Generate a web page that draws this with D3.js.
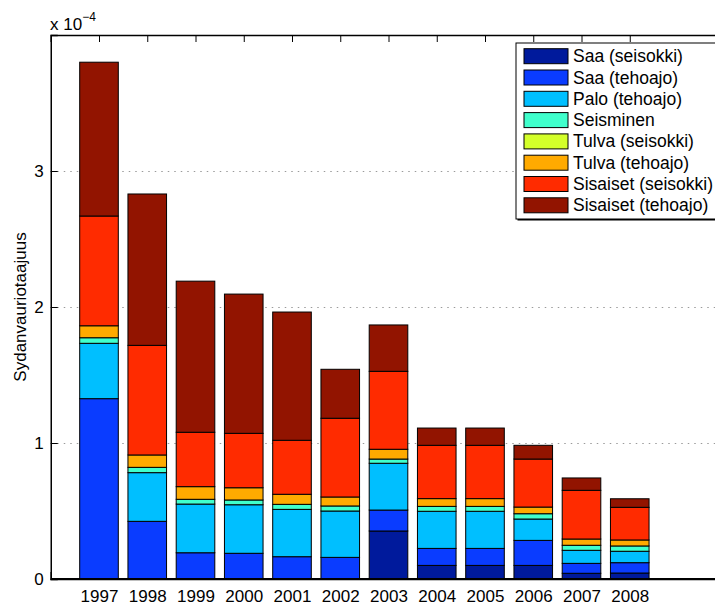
<!DOCTYPE html>
<html lang="en">
<head>
  <meta charset="UTF-8">
  <title>Sydanvauriotaajuus</title>
  <script src="https://cdn.jsdelivr.net/npm/d3@7"></script>
  <style>
    body { margin: 0; background: #fff; }
    text { font-family: 'Liberation Sans', Arial, sans-serif; fill: #000; }
    .tick text { font-size: 17px; }
    .grid line { stroke: #9a9a9a; stroke-dasharray: 1.5, 5; stroke-width: 1px; }
    .legend text { font-size: 17.5px; }
  </style>
</head>
<body>
<div class="container"></div>
<script>
  // years on the x axis
  var years = ['1997','1998','1999','2000','2001','2002','2003','2004','2005','2006','2007','2008'];
  var seriesNames = ['Saa (seisokki)','Saa (tehoajo)','Palo (tehoajo)','Seisminen',
                     'Tulva (seisokki)','Tulva (tehoajo)','Sisaiset (seisokki)','Sisaiset (tehoajo)'];
  var colors = ['#001a9c','#0a3cff','#00bfff','#40ffcc','#d4ff2a','#ffaa00','#ff2b00','#921400'];
  // values in units of 1e-4
  var saaSeisokki     = [0,     0,     0,     0,     0,     0,     0.353, 0.100, 0.100, 0.100, 0.042, 0.044];
  var saaTehoajo      = [1.326, 0.424, 0.193, 0.189, 0.164, 0.159, 0.154, 0.125, 0.125, 0.184, 0.073, 0.076];
  var paloTehoajo     = [0.407, 0.358, 0.358, 0.357, 0.348, 0.341, 0.344, 0.273, 0.273, 0.157, 0.096, 0.084];
  var seisminen       = [0.041, 0.039, 0.035, 0.035, 0.037, 0.037, 0.031, 0.036, 0.036, 0.039, 0.037, 0.039];
  var tulvaSeisokki   = [0,     0,     0,     0,     0,     0,     0,     0,     0,     0,     0,     0];
  var tulvaTehoajo    = [0.088, 0.091, 0.093, 0.090, 0.074, 0.066, 0.072, 0.057, 0.057, 0.049, 0.046, 0.044];
  var sisaisetSeisokki= [0.807, 0.806, 0.400, 0.400, 0.397, 0.579, 0.573, 0.392, 0.392, 0.353, 0.358, 0.240];
  var sisaisetTehoajo = [1.131, 1.113, 1.111, 1.024, 0.943, 0.360, 0.341, 0.127, 0.127, 0.101, 0.091, 0.063];
  var yTicks = [0, 1, 2, 3];

  var series = [saaSeisokki, saaTehoajo, paloTehoajo, seisminen,
                tulvaSeisokki, tulvaTehoajo, sisaisetSeisokki, sisaisetTehoajo];
  var rows = years.map(function(y, i) {
    var r = {year: y, idx: i + 1};
    seriesNames.forEach(function(n, k) { r[n] = series[k][i]; });
    return r;
  });

  var svgWidth = 715, svgHeight = 606;
  var margin = {left: 50.75, top: 35, bottom: 27};
  var axRight = 726.25;
  var svg = d3.select('.container').append('svg')
              .attr('width', svgWidth).attr('height', svgHeight);

  var x = d3.scaleLinear().domain([0, 14]).range([margin.left, axRight]);
  var y = d3.scaleLinear().domain([0, 4]).range([svgHeight - margin.bottom, margin.top]);
  var step = x(1) - x(0);
  var barW = step * 0.8;

  // grid (below the bars, like matlab's bottom layer)
  svg.append('g').attr('class', 'grid')
     .selectAll('line').data(yTicks.filter(function(d){ return d > 0; }))
     .enter().append('line')
     .attr('x1', x(0)).attr('x2', axRight)
     .attr('y1', function(d){ return Math.round(y(d)) + 0.5; })
     .attr('y2', function(d){ return Math.round(y(d)) + 0.5; });

  // axes
  var xAxis = d3.axisBottom(x).tickValues(d3.range(1, 13))
                .tickFormat(function(d){ return years[d - 1]; })
                .tickSize(-7).tickPadding(11);
  var gx = svg.append('g').attr('transform', 'translate(0,' + y(0) + ')').call(xAxis);
  var xTop = d3.axisTop(x).tickValues(d3.range(1, 13)).tickFormat('').tickSize(-7);
  var gxt = svg.append('g').attr('transform', 'translate(0,' + y(4) + ')').call(xTop);
  var yAxis = d3.axisLeft(y).tickValues(yTicks).tickFormat(d3.format('d'))
                .tickSize(-7).tickPadding(7);
  var gy = svg.append('g').attr('transform', 'translate(' + x(0) + ',0)').call(yAxis);
  [gx, gxt, gy].forEach(function(g) {
    g.select('.domain').attr('stroke', '#000').attr('stroke-width', 1.5);
    g.selectAll('.tick line').attr('stroke', '#000');
    g.selectAll('.tick text').attr('fill', '#000');
  });
  gx.selectAll('.tick text').attr('dy', '0.71em');

  // stacked bars
  var stack = d3.stack().keys(seriesNames);
  var layers = stack(rows);
  svg.append('g').selectAll('g').data(layers).enter().append('g')
     .attr('fill', function(d, i){ return colors[i]; })
     .selectAll('rect').data(function(d){ return d; })
     .enter().append('rect')
     .attr('x', function(d){ return x(d.data.idx) - barW / 2; })
     .attr('width', barW)
     .attr('y', function(d){ return y(d[1]); })
     .attr('height', function(d){ return y(d[0]) - y(d[1]); })
     .attr('stroke', '#000').attr('stroke-width', 1);
  // bottom axis line back on top
  svg.append('line').attr('x1', x(0)).attr('x2', axRight)
     .attr('y1', y(0)).attr('y2', y(0)).attr('stroke', '#000').attr('stroke-width', 2);

  // exponent label
  var ex = svg.append('text').attr('x', 50).attr('y', 30).style('font-size', '17px');
  ex.append('tspan').text('x 10');
  ex.append('tspan').attr('dy', -9).style('font-size', '12px').text('\u22124');

  // y label
  svg.append('text')
     .attr('transform', 'translate(26,' + ((y(0) + y(4)) / 2) + ') rotate(-90)')
     .style('text-anchor', 'middle').style('font-size', '17px')
     .text('Sydanvauriotaajuus');

  // legend
  var lg = svg.append('g').attr('class', 'legend');
  var lgX = 516, lgY = 43, lgW = 215, lgH = 176;
  lg.append('rect').attr('x', lgX + 1.5).attr('y', lgY + 1.5).attr('width', lgW).attr('height', lgH)
    .attr('fill', '#000');
  lg.append('rect').attr('x', lgX).attr('y', lgY).attr('width', lgW).attr('height', lgH)
    .attr('fill', '#fff').attr('stroke', '#000').attr('stroke-width', 1);
  var item = lg.selectAll('.item').data(seriesNames).enter().append('g')
     .attr('transform', function(d, i){ return 'translate(' + (lgX + 8) + ',' + (lgY + 5.7 + i * 21.3) + ')'; });
  item.append('rect').attr('width', 44).attr('height', 15)
      .attr('fill', function(d, i){ return colors[i]; })
      .attr('stroke', '#000').attr('stroke-width', 1);
  item.append('text').attr('x', 49).attr('y', 13.5).text(function(d){ return d; });
</script>
</body>
</html>
